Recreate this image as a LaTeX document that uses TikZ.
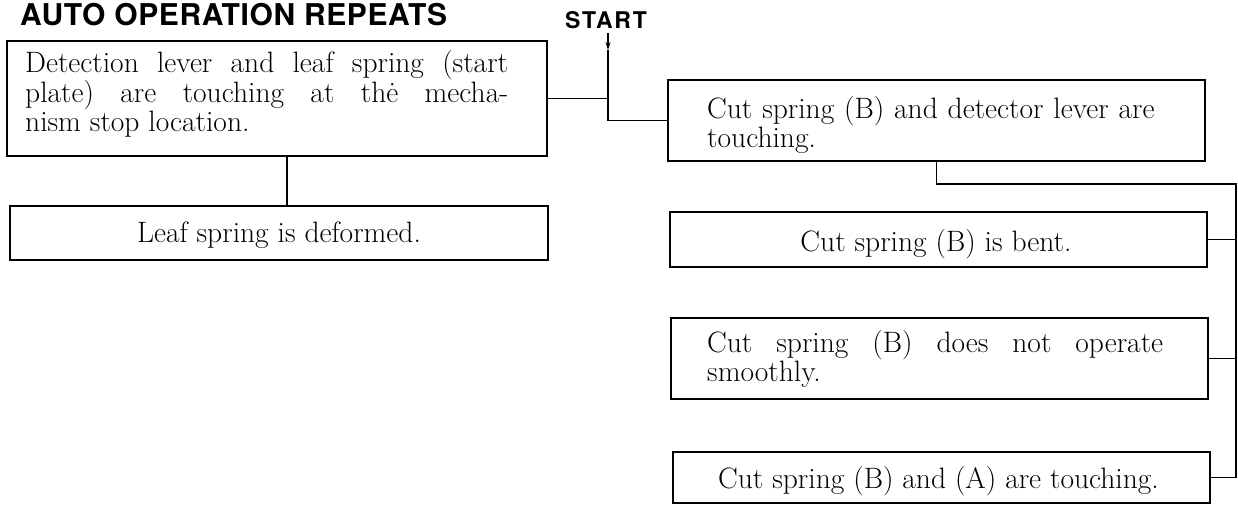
\documentclass[tikz,border=0pt]{standalone}
\usepackage{fontspec}
\newfontfamily\headfont{TeX Gyre Heros}
\usetikzlibrary{arrows.meta}
\begin{document}
\begin{tikzpicture}[x=1pt,y=-1pt,
  frame/.style={draw, line width=1.2pt, inner sep=0pt, rectangle},
  body/.style={inner sep=0pt, font=\fontsize{29.5}{29}\selectfont\addfontfeature{FakeBold=1.5}},
  heading/.style={inner sep=0pt, font=\headfont\bfseries\fontsize{30}{30}\selectfont\addfontfeature{LetterSpace=2}},
  wire/.style={line width=1.1pt},
]
\useasboundingbox (0,0) rectangle (1238,504);

% headings
\node[heading, anchor=base west] (title) at (20,25) {AUTO OPERATION REPEATS};
\node[heading, anchor=base, font=\headfont\bfseries\fontsize{23}{23}\selectfont\addfontfeature{LetterSpace=8}] (start) at (606,28) {START};

% left column
\node[frame, minimum width=540pt, minimum height=115pt] (b1) at (277,98.5) {};
\node[body, anchor=base west, text width=483pt, align=justify] (t1) at (25,72)
  {Detection lever and leaf spring (start\linebreak plate) are touching at thė mecha-\linebreak nism stop location.};

\node[frame, minimum width=538pt, minimum height=54pt] (b2) at (279,233) {};
\node[body, anchor=base] (t2) at (279,242) {Leaf spring is deformed.};

% right column
\node[frame, minimum width=537pt, minimum height=81pt] (b3) at (936.5,120.5) {};
\node[body, anchor=base west, text width=470pt, align=left] (t3) at (707,118)
  {Cut spring (B) and detector lever are\\ touching.};

\node[frame, minimum width=537pt, minimum height=55pt] (b4) at (938.5,239.5) {};
\node[body, anchor=base] (t4) at (936,251) {Cut spring (B) is bent.};

\node[frame, minimum width=537pt, minimum height=81pt] (b5) at (939.5,358.5) {};
\node[body, anchor=base west, text width=456pt, align=justify] (t5) at (707,352)
  {Cut spring (B) does not operate\linebreak smoothly.};

\node[frame, minimum width=537pt, minimum height=51pt] (b6) at (941.5,477.5) {};
\node[body, anchor=base] (t6) at (938.5,488) {Cut spring (B) and (A) are touching.};

% connectors
\coordinate (s0) at (608,33);
\coordinate (tip) at (608,50);
\coordinate (bus) at (1236,184);

\draw[wire, -{Stealth[length=8pt,width=5pt]}] (s0) -- (tip);
\draw[wire] (tip) -- (tip |- b3.west) -- (b3.west);
\draw[wire] (b1.east) -- (b1.east -| tip);
\draw[wire] ([xshift=10pt]b1.south) -- ([xshift=10pt]b1.south |- b2.north);

\draw[wire] (b3.south) |- (bus) -- (bus |- b6.east);
\draw[wire] (b4.east) -- (b4.east -| bus);
\draw[wire] (b5.east) -- (b5.east -| bus);
\draw[wire] (b6.east) -- (b6.east -| bus);
\end{tikzpicture}
\end{document}
